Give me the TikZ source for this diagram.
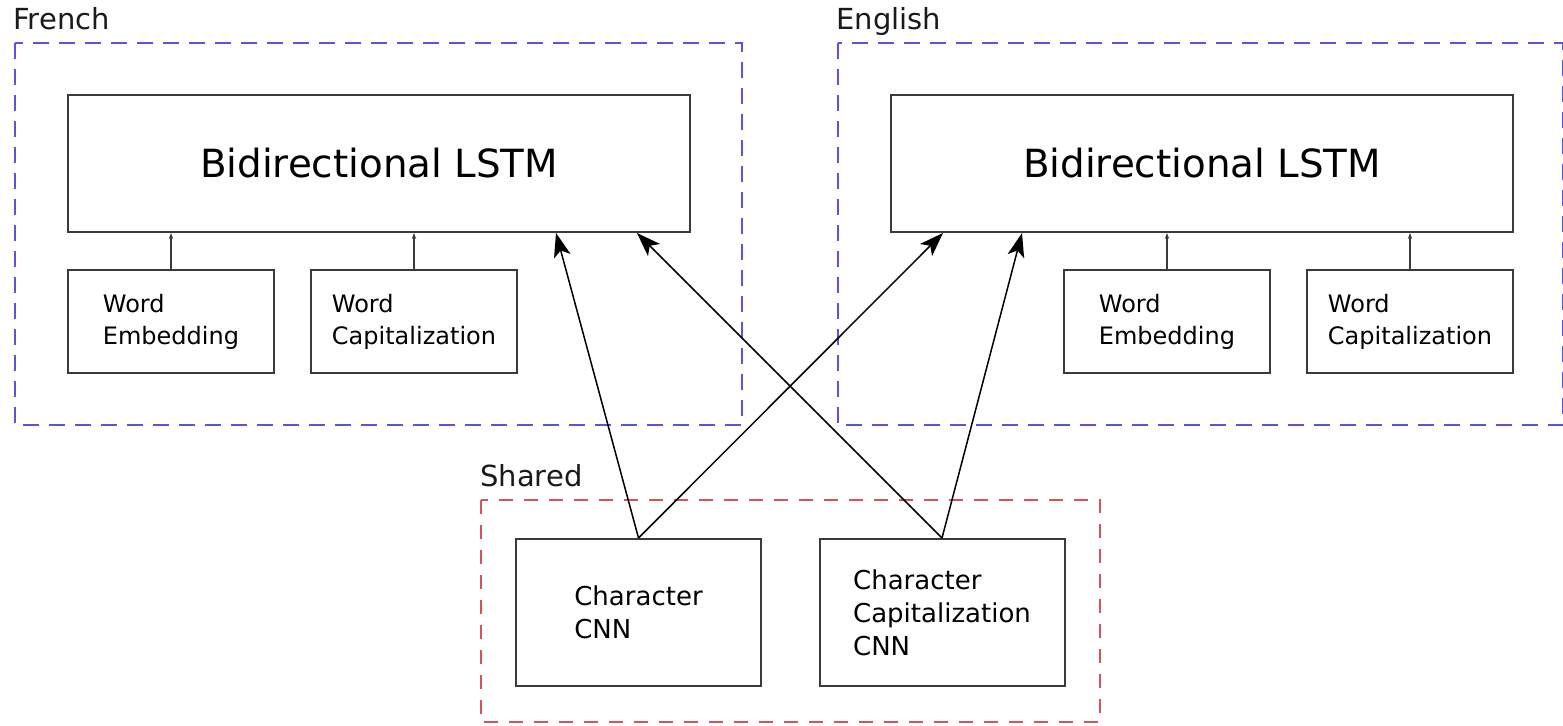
\documentclass[tikz,border=0pt]{standalone}
\usepackage{fontspec}
\setmainfont{DejaVu Sans}
\usepackage{xcolor}
\definecolor{ink}{HTML}{1A1A1A}
\definecolor{edge}{HTML}{3A3A3A}
\definecolor{langblue}{HTML}{5A55DA}
\definecolor{sharedred}{HTML}{D3545C}
\usepackage{tikz}
\usetikzlibrary{arrows.meta,positioning,calc}
\tikzset{
  blk/.style={draw=edge,line width=1pt,fill=white,inner sep=0pt,align=left},
  lstm/.style={blk,minimum width=311pt,minimum height=68.5pt,font=\fontsize{19.4}{23}\selectfont},
  feat/.style={blk,minimum width=103pt,minimum height=51.5pt,font=\fontsize{12}{16}\selectfont},
  cnn/.style={blk,minimum width=122.5pt,minimum height=73.5pt,font=\fontsize{13}{16.5}\selectfont},
  lang/.style={draw=langblue,line width=1pt,dash pattern=on 8pt off 5pt},
  shr/.style={draw=sharedred,line width=0.9pt,dash pattern=on 7pt off 5.5pt},
  grplbl/.style={anchor=base west,inner sep=0pt,font=\fontsize{14.5}{17}\selectfont,text=ink},
  feed/.style={-{Stealth[length=3pt,width=2.2pt]},line width=0.8pt,draw=edge},
  cross/.style={-{Stealth[length=12pt,width=8.5pt,inset=3pt]},line width=0.75pt,draw=black},
}

\begin{document}
\begin{tikzpicture}[x=0.5pt,y=-0.5pt]
  \useasboundingbox (0,0) rectangle (1563,725);

  % language groups
  \draw[lang] (15,43) rectangle (742,425);
  \draw[lang] (838,43) rectangle (1563,425);
  \draw[shr] (481,500) rectangle (1100,722);
  \node[grplbl] (frlbl) at (13,29) {French};
  \node[grplbl] (enlbl) at (836,29) {English};
  \node[grplbl] (shlbl) at (480,486) {Shared};

  % french side
  \node[lstm] (frLSTM) at (379,163.5) {Bidirectional LSTM};
  \node[feat] (frEmb) at (171,321.5) {Word\\Embedding};
  \node[feat] (frCap) at (414,321.5) {Word\\Capitalization};
  \draw[feed] (frEmb) -- (frEmb |- frLSTM.south);
  \draw[feed] (frCap) -- (frCap |- frLSTM.south);

  % english side
  \node[lstm] (enLSTM) at (1202,163.5) {Bidirectional LSTM};
  \node[feat] (enEmb) at (1167,321.5) {Word\\Embedding};
  \node[feat] (enCap) at (1410,321.5) {Word\\Capitalization};
  \draw[feed] (enEmb) -- (enEmb |- enLSTM.south);
  \draw[feed] (enCap) -- (enCap |- enLSTM.south);

  % shared character models
  \node[cnn] (charCNN) at (638.5,612.5) {Character\\CNN};
  \node[cnn] (capCNN) at (942,612.5) {Character\\Capitalization\\CNN};

  \draw[cross] (charCNN.north) -- ($(frLSTM.south)+(177,0)$);
  \draw[cross] (charCNN.north) -- ($(enLSTM.south)+(-259,0)$);
  \draw[cross] (capCNN.north) -- ($(frLSTM.south)+(258,0)$);
  \draw[cross] (capCNN.north) -- ($(enLSTM.south)+(-180,0)$);
\end{tikzpicture}
\end{document}
